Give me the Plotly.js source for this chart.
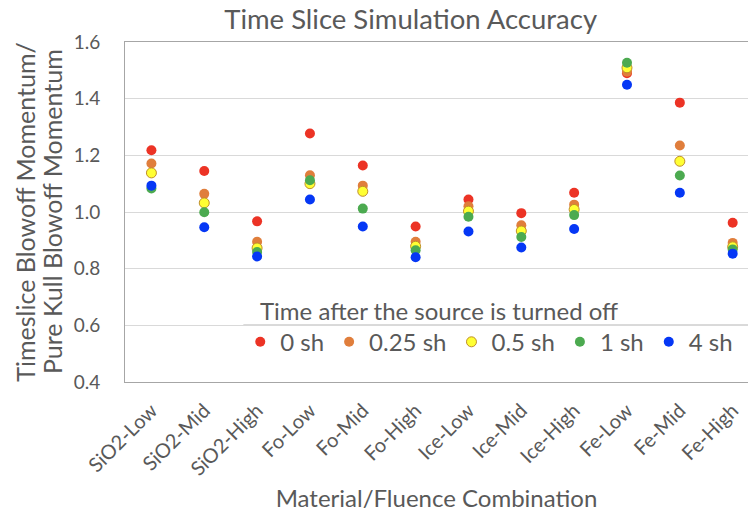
<!DOCTYPE html>
<html>
<head>
<meta charset="utf-8">
<script src="https://cdn.plot.ly/plotly-3.0.1.min.js"></script>
<style>html,body{margin:0;padding:0;background:#fff;}#chart{width:748px;height:512px;}</style>
</head>
<body>
<div id="chart"></div>
<script>
const categories = ['SiO2-Low','SiO2-Mid','SiO2-High','Fo-Low','Fo-Mid','Fo-High','Ice-Low','Ice-Mid','Ice-High','Fe-Low','Fe-Mid','Fe-High'];
const seriesNames = ['0 sh','0.25 sh','0.5 sh','1 sh','4 sh'];
const sh0   = [1.218,1.145,0.967,1.277,1.164,0.949,1.044,0.996,1.068,1.490,1.386,0.962];
const sh025 = [1.171,1.064,0.895,1.130,1.093,0.895,1.020,0.953,1.026,1.495,1.235,0.891];
const sh05  = [1.138,1.032,0.873,1.100,1.073,0.879,1.003,0.933,1.009,1.509,1.179,0.877];
const sh1   = [1.083,0.999,0.859,1.112,1.012,0.865,0.983,0.912,0.989,1.527,1.129,0.868];
const sh4   = [1.093,0.946,0.843,1.044,0.949,0.840,0.931,0.875,0.940,1.449,1.068,0.853];
const yTicks = [0.4,0.6,0.8,1.0,1.2,1.4,1.6];
const yTitleLines = ['Timeslice Blowoff Momentum/', 'Pure Kull Blowoff Momentum'];

const values = [sh0, sh025, sh05, sh1, sh4];
const colors = ['#EC3325','#E07E3C','#FFFF33','#4CAA50','#0537F5'];
const lineColors = ['#EC3325','#E07E3C','#BF8F2A','#4CAA50','#0537F5'];
const FONT = 'Lato, "Open Sans", sans-serif';
const TXT = '#595959';

const traces = values.map((v, i) => ({
  type: 'scatter', mode: 'markers', name: seriesNames[i],
  x: categories, y: v,
  marker: {size: 10, color: colors[i], line: {color: lineColors[i], width: i === 2 ? 1 : 0}}
}));

const layout = {
  width: 748, height: 512,
  margin: {l: 125, r: 0, t: 42, b: 130},
  paper_bgcolor: '#fff', plot_bgcolor: '#fff',
  font: {family: FONT, color: TXT},
  title: {text: 'Time Slice Simulation Accuracy', font: {size: 27.5, color: TXT, family: FONT}, x: 0.549, xanchor: 'center', y: 0.963, yanchor: 'middle'},
  xaxis: {
    type: 'category', range: [-0.5, 11.29],
    showgrid: false, showline: true, mirror: true, linecolor: '#a6a6a6', linewidth: 1,
    ticks: '', tickangle: -45, ticklabelstandoff: 8, tickfont: {size: 20, color: TXT, family: FONT},
    title: {text: 'Material/Fluence Combination', font: {size: 24, color: TXT, family: FONT}, standoff: 11},
    automargin: false, fixedrange: true
  },
  yaxis: {
    range: [0.4, 1.6], tickvals: yTicks, ticktext: yTicks.map(t => t.toFixed(1)),
    showgrid: true, gridcolor: '#d9d9d9', gridwidth: 1, zeroline: false,
    showline: true, linecolor: '#a6a6a6', linewidth: 1,
    ticks: '', ticklabelstandoff: 20, tickfont: {size: 19, color: TXT, family: FONT},
    automargin: false, fixedrange: true
  },
  annotations: yTitleLines.map((t, i) => ({
    text: t, textangle: -90, xref: 'paper', yref: 'paper',
    x: i === 0 ? -0.161 : -0.117, y: 0.5, xanchor: 'center', yanchor: 'middle',
    showarrow: false, font: {size: 25, color: TXT, family: FONT}
  })),
  showlegend: true,
  legend: {
    orientation: 'h', x: 0.185, xanchor: 'left', y: 0.275, yanchor: 'top',
    bgcolor: 'rgba(255,255,255,0)', font: {size: 24, color: TXT, family: FONT},
    title: {text: '&nbsp;&nbsp;&nbsp;Time after the source is turned off', side: 'top', font: {size: 24, color: TXT, family: FONT}},
    itemwidth: 30, tracegroupgap: 0
  },
  shapes: [{type: 'line', xref: 'paper', yref: 'paper', x0: 0.19, x1: 1.0, y0: 0.169, y1: 0.169, line: {color: '#d9d9d9', width: 1}}]
};

Plotly.newPlot('chart', traces, layout, {displayModeBar: false, staticPlot: true});
</script>
</body>
</html>
